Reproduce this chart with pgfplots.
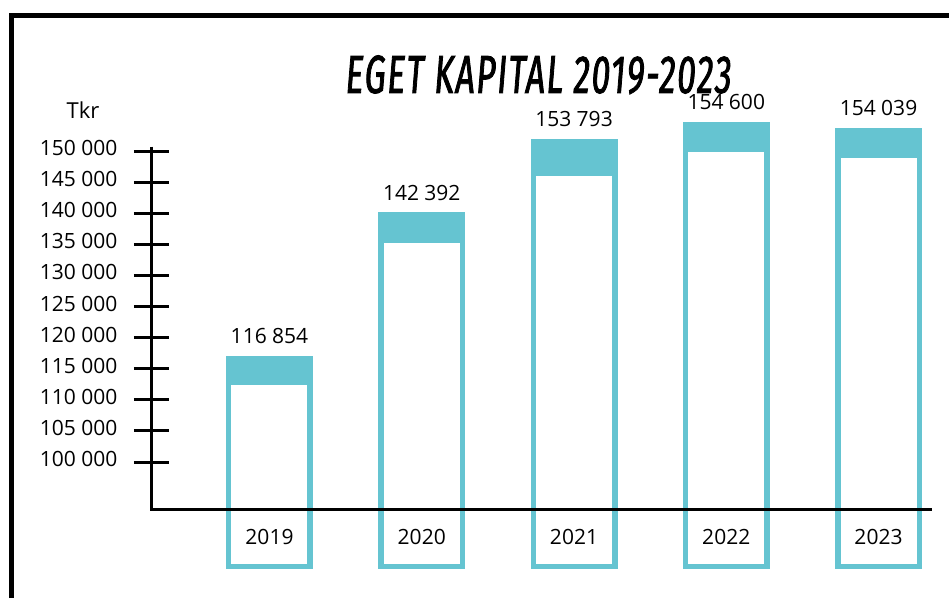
\documentclass[border=0pt]{standalone}
\usepackage{fontspec}
\setmainfont{Open Sans}
\newfontfamily\titlefont[FakeSlant=0.08,FakeStretch=0.62,FakeBold=1.5,LetterSpace=3]{Fira Sans}
\usepackage{pgfplots}
\usepackage{pgfplotstable}
\pgfplotsset{compat=1.18}
\definecolor{barteal}{RGB}{101,196,209}

% bar heights, labels as printed
\pgfplotstableread[col sep=comma]{
x,year,base,top,mid,label
0,2019,83240,116600,112820,{116 854}
1,2020,83240,139710,135690,{142 392}
2,2021,83240,151450,146420,{153 793}
3,2022,83240,154280,150320,{154 600}
4,2023,83240,153220,149280,{154 039}
}\kapital

\begin{document}
\begin{tikzpicture}[x=1pt,y=1pt]
\useasboundingbox (0,0) rectangle (949,598);
\begin{axis}[
  at={(151.5pt,0pt)}, anchor=south west,
  scale only axis, width=797.5pt, height=598pt,
  xmin=-0.7750, xmax=4.4631,
  ymin=78135, ymax=174277,
  enlargelimits=false,
  clip=false,
  axis on top,
  ybar stacked, bar width=81.5pt,
  axis line style={draw=none},
  xtick={0,1,2,3,4},
  xticklabels={2019,2020,2021,2022,2023},
  xtick style={draw=none},
  xticklabel style={anchor=base, inner sep=0pt, yshift=71pt,
    font=\fontsize{21}{25}\selectfont},
  scaled y ticks=false,
  ytick={100000,105000,110000,115000,120000,125000,130000,135000,140000,145000,150000},
  yticklabels={100 000,105 000,110 000,115 000,120 000,125 000,130 000,135 000,140 000,145 000,150 000},
  ytick pos=left,
  major tick length=35pt, tick align=center,
  ytick style={black, line width=3pt},
  yticklabel style={anchor=east, inner sep=0pt, xshift=-16.5pt, yshift=3pt,
    font=\fontsize{21}{25}\selectfont},
]
\draw[black, line width=3pt] (axis cs:-0.775,150700) -- (axis cs:-0.775,92395) -- (axis cs:4.351,92395);

\addplot[draw=none, fill=none] table[x=x, y=base] {\kapital};
\addplot[fill=white, draw=barteal, line width=5.5pt]
  table[x=x, y expr=\thisrow{mid}-\thisrow{base}] {\kapital};
\addplot[fill=barteal, draw=barteal, line width=5.5pt]
  table[x=x, y expr=\thisrow{top}-\thisrow{mid}] {\kapital};
% thin invisible segment on top, only to carry the printed values
\addplot[draw=none, fill=none, point meta=explicit symbolic,
  nodes near coords={\pgfplotspointmeta},
  nodes near coords style={anchor=base, inner sep=0pt, yshift=15pt, text=black,
    font=\fontsize{21}{25}\selectfont}]
  table[x=x, y expr=1, meta=label] {\kapital};
\end{axis}

\node[anchor=base, inner sep=0pt, font=\titlefont\fontsize{53.7}{56}\selectfont] at (537.5,505) {EGET KAPITAL 2019-2023};
\node[anchor=base, inner sep=0pt, font=\fontsize{22}{26}\selectfont] at (83,479) {Tkr};
\draw[black, line width=5pt] (11.5,0) -- (11.5,582.2) -- (949,582.2);
\end{tikzpicture}
\end{document}
